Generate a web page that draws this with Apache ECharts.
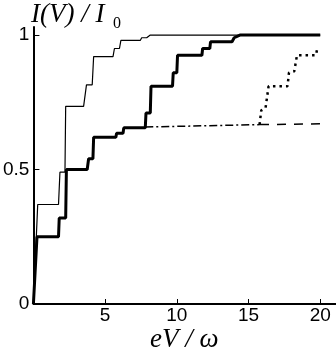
<!DOCTYPE html>
<html>
<head>
<meta charset="utf-8">
<script src="https://cdn.jsdelivr.net/npm/echarts@6/dist/echarts.min.js"></script>
<style>
  html, body { margin: 0; padding: 0; background: #fff; }
  #chart { width: 336px; height: 353px; }
</style>
</head>
<body>
<div id="chart"></div>
<script>
// tick labels
const xTicks = [5, 10, 15, 20]
const yTicks = [0, 0.5, 1]

// thin curve
const thinX = [0, 0.3, 1.75, 1.85, 2.2, 2.25, 3.5, 3.7, 4.1, 4.2, 5.55, 5.65, 6.0, 6.1, 7.45, 7.55, 7.9, 8.15, 20]
const thinY = [0, 0.37, 0.37, 0.49, 0.49, 0.735, 0.735, 0.815, 0.815, 0.92, 0.92, 0.95, 0.95, 0.98, 0.98, 0.99, 0.99, 1.0, 1.0]

// thick curve
const thickX = [0, 0.25, 1.75, 1.8, 2.25, 2.3, 3.75, 3.85, 4.15, 4.2, 5.75, 5.8, 6.25, 6.3, 7.8, 7.85, 8.15, 8.2, 9.7, 9.75, 10.0, 10.05, 11.75, 11.8, 12.3, 12.35, 13.85, 14.0, 14.4, 20]
const thickY = [0, 0.25, 0.25, 0.32, 0.32, 0.5, 0.5, 0.54, 0.54, 0.62, 0.62, 0.635, 0.635, 0.655, 0.655, 0.71, 0.71, 0.81, 0.81, 0.86, 0.86, 0.925, 0.925, 0.95, 0.95, 0.975, 0.975, 0.99, 1.0, 1.0]

// dash-dot plateau, then dashed
const dashDotX = [7.8, 15.8]
const dashDotY = [0.658, 0.667]
const dashedX = [15.8, 20]
const dashedY = [0.667, 0.67]

// dotted branch
const dottedX = [15.77, 15.89, 16.19, 16.4, 17.72, 17.82, 18.19, 18.38, 19.7, 19.81]
const dottedY = [0.667, 0.72, 0.73, 0.81, 0.81, 0.86, 0.865, 0.925, 0.925, 0.955]

const pairs = (xs, ys) => xs.map((x, i) => [x, ys[i]])

const line = (name, xs, ys, width, type) => ({
  name,
  type: 'line',
  data: pairs(xs, ys),
  showSymbol: false,
  silent: true,
  lineStyle: { color: '#000', width, type, cap: 'butt' }
})

const chart = echarts.init(document.getElementById('chart'))

chart.setOption({
  animation: false,
  backgroundColor: '#fff',
  grid: { left: 33, right: 0, top: 27, bottom: 49 },
  xAxis: {
    type: 'value',
    min: 0,
    max: 21.1,
    splitLine: { show: false },
    axisLine: { lineStyle: { color: '#000', width: 2 } },
    axisTick: { inside: true, length: 5, customValues: xTicks, lineStyle: { color: '#000', width: 1 } },
    axisLabel: {
      customValues: xTicks,
      margin: 2,
      color: '#000',
      fontFamily: 'Liberation Sans',
      fontSize: 19
    }
  },
  yAxis: {
    type: 'value',
    min: 0,
    max: 1.03,
    splitLine: { show: false },
    axisLine: { show: true, lineStyle: { color: '#000', width: 2 } },
    axisTick: { show: true, inside: true, length: 6, customValues: [0.5, 1], lineStyle: { color: '#000', width: 1 } },
    axisLabel: {
      customValues: yTicks,
      margin: 4,
      color: '#000',
      fontFamily: 'Liberation Sans',
      fontSize: 19
    }
  },
  graphic: [
    {
      type: 'text',
      left: 31,
      top: 1,
      style: {
        text: 'I(V) / I',
        font: 'italic 27px "Liberation Serif"',
        fill: '#000'
      }
    },
    {
      type: 'text',
      left: 113,
      top: 16,
      style: {
        text: '0',
        font: '16px "Liberation Serif"',
        fill: '#000'
      }
    },
    {
      type: 'text',
      left: 150,
      top: 326,
      style: {
        text: 'eV / ω',
        font: 'italic 27px "Liberation Serif"',
        fill: '#000'
      }
    }
  ],
  series: [
    line('thin', thinX, thinY, 1.2, 'solid'),
    line('thick', thickX, thickY, 3, 'solid'),
    line('dashdot', dashDotX, dashDotY, 1.5, [8, 3, 2, 3]),
    line('dashed', dashedX, dashedY, 1.5, [9, 8]),
    line('dotted', dottedX, dottedY, 2.5, [2.5, 4])
  ]
})
</script>
</body>
</html>
